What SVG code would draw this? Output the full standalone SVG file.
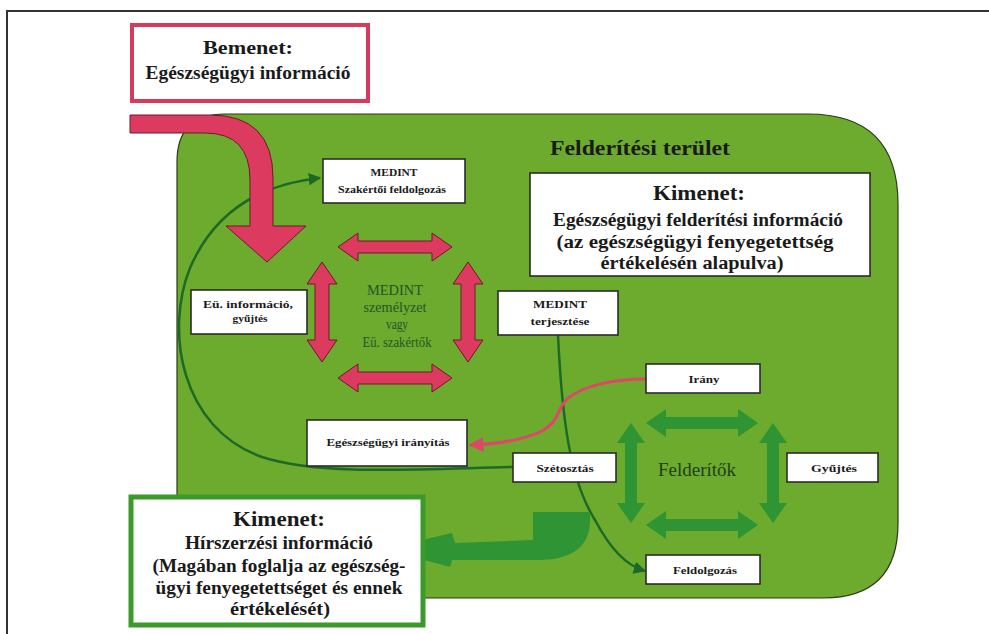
<svg xmlns="http://www.w3.org/2000/svg" width="989" height="634" viewBox="0 0 989 634">
<style>
.box{fill:#fff;stroke:#2b2b2b;stroke-width:1.6}
.t{font-family:"Liberation Serif","DejaVu Serif",serif;font-weight:bold;fill:#1a1a1a;text-anchor:middle}
.s{font-size:11px}
.r{font-family:"Liberation Serif","DejaVu Serif",serif;text-anchor:middle}
.pk{fill:#dc3a5e;stroke:#6d1a2c;stroke-width:1}
.gr{fill:#2f9433}
.ln{fill:none;stroke:#1d6a27;stroke-width:2.5}
</style>
<defs>
<marker id="ag" viewBox="0 0 10 10" refX="9" refY="5" markerWidth="5" markerHeight="5" orient="auto" markerUnits="strokeWidth"><path d="M0,0 L10,5 L0,10 Z" fill="#1d6a27"/></marker>
<marker id="ar" viewBox="0 0 10 10" refX="9" refY="5" markerWidth="5" markerHeight="5" orient="auto" markerUnits="strokeWidth"><path d="M0,0 L10,5 L0,10 Z" fill="#e0456a"/></marker>
<path id="ph" d="M-57,0 L-37,-14 L-37,-6 L37,-6 L37,-14 L57,0 L37,14 L37,6 L-37,6 L-37,14 Z"/>
<path id="pv" d="M0,-50 L15,-28 L7,-28 L7,28 L15,28 L0,50 L-15,28 L-7,28 L-7,-28 L-15,-28 Z"/>
<path id="gh" d="M-56,0 L-36,-14 L-36,-6 L36,-6 L36,-14 L56,0 L36,14 L36,6 L-36,6 L-36,14 Z"/>
<path id="gv" d="M0,-50 L14,-30 L6,-30 L6,30 L14,30 L0,50 L-14,30 L-6,30 L-6,-30 L-14,-30 Z"/>
</defs>
<rect x="0" y="0" width="989" height="634" fill="#fff"/>
<rect x="7" y="11" width="990" height="640" fill="none" stroke="#333" stroke-width="2"/>

<g id="area">
<path d="M177,598 L177,162 Q177,114 225,114 L808,114 Q898,114 898,204 L898,523 Q898,598 823,598 Z" fill="#6cab2d" stroke="#2a3a1a" stroke-width="1.2"/>
<text class="t" x="640" y="155" font-size="20" textLength="180" lengthAdjust="spacingAndGlyphs">Felderítési terület</text>
</g>

<g id="connectors">
<path class="ln" d="M513,467 C420,469 320,476 262,457 C180,428 165,330 190,268 C215,210 262,184 320,178" marker-end="url(#ag)"/>
<path class="ln" d="M558,335 C562,420 570,480 595,520 C610,548 625,565 645,571" marker-end="url(#ag)"/>
<path d="M646,379 C615,379 585,385 568,398 C555,410 562,420 540,432 C520,441 495,444 470,445" fill="none" stroke="#e0456a" stroke-width="3" marker-end="url(#ar)"/>
<path d="M130,115 L210,115 Q273,115 273,178 L273,226 L306,226 L267,262 L226,226 L250,226 L250,180 Q250,133 205,133 L130,133 Z" class="pk"/>
<path d="M590,512 L533,512 L533,540 L455,543 L452,533 L384,549 L450,567 L452,560 L542,560 Q590,558 590,520 Z" class="gr"/>
</g>

<g id="pink-cycle">
<use href="#ph" x="395" y="247" class="pk"/>
<use href="#ph" x="395" y="378" class="pk"/>
<use href="#pv" x="322" y="312" class="pk"/>
<use href="#pv" x="468" y="312" class="pk"/>
<g class="r" font-size="14" fill="#24552a">
<text x="395" y="295" textLength="56" lengthAdjust="spacingAndGlyphs">MEDINT</text>
<text x="395" y="312" textLength="63" lengthAdjust="spacingAndGlyphs">személyzet</text>
<text x="397" y="329" textLength="22" lengthAdjust="spacingAndGlyphs">vagy</text>
<text x="397" y="347" textLength="69" lengthAdjust="spacingAndGlyphs">Eü. szakértők</text>
</g>
</g>

<g id="green-cycle">
<use href="#gh" x="702" y="423" class="gr"/>
<use href="#gh" x="702" y="525" class="gr"/>
<use href="#gv" x="631" y="473" class="gr"/>
<use href="#gv" x="773" y="473" class="gr"/>
<text class="r" x="697" y="476" font-size="19" fill="#1e3f1e" textLength="78" lengthAdjust="spacingAndGlyphs">Felderítők</text>
</g>

<g id="bemenet">
<rect x="132" y="25" width="236" height="76" fill="#fff" stroke="#d63a5c" stroke-width="4"/>
<text class="t" x="248" y="54" font-size="18" textLength="90" lengthAdjust="spacingAndGlyphs">Bemenet:</text>
<text class="t" x="248" y="79" font-size="18" textLength="205" lengthAdjust="spacingAndGlyphs">Egészségügyi információ</text>
</g>

<g id="medint-szakertoi">
<rect class="box" x="323" y="159" width="142" height="44"/>
<text class="t s" x="394" y="176" textLength="47" lengthAdjust="spacingAndGlyphs">MEDINT</text>
<text class="t s" x="392" y="193" textLength="108" lengthAdjust="spacingAndGlyphs">Szakértői feldolgozás</text>
</g>

<g id="kimenet-top">
<rect class="box" x="530" y="173" width="340" height="103"/>
<text class="t" x="699" y="200" font-size="22" textLength="92" lengthAdjust="spacingAndGlyphs">Kimenet:</text>
<text class="t" x="698" y="226" font-size="18" textLength="290" lengthAdjust="spacingAndGlyphs">Egészségügyi felderítési információ</text>
<text class="t" x="695" y="248" font-size="18" textLength="277" lengthAdjust="spacingAndGlyphs">(az egészségügyi fenyegetettség</text>
<text class="t" x="692" y="269" font-size="18" textLength="183" lengthAdjust="spacingAndGlyphs">értékelésén alapulva)</text>
</g>

<g id="eu-gyujtes">
<rect class="box" x="191" y="290" width="116" height="44"/>
<text class="t s" x="248" y="308" textLength="90" lengthAdjust="spacingAndGlyphs">Eü. információ,</text>
<text class="t s" x="250" y="322" textLength="35" lengthAdjust="spacingAndGlyphs">gyűjtés</text>
</g>

<g id="medint-terjesztese">
<rect class="box" x="498" y="291" width="120" height="44"/>
<text class="t s" x="560" y="308" textLength="54" lengthAdjust="spacingAndGlyphs">MEDINT</text>
<text class="t s" x="560" y="325" textLength="59" lengthAdjust="spacingAndGlyphs">terjesztése</text>
</g>

<g id="irany">
<rect class="box" x="646" y="364" width="114" height="29"/>
<text class="t s" x="704" y="383" textLength="31" lengthAdjust="spacingAndGlyphs">Irány</text>
</g>

<g id="eu-iranyitas">
<rect class="box" x="307" y="420" width="160" height="46"/>
<text class="t s" x="388" y="446" textLength="123" lengthAdjust="spacingAndGlyphs">Egészségügyi irányítás</text>
</g>

<g id="szetosztas">
<rect class="box" x="513" y="453" width="103" height="29"/>
<text class="t s" x="565" y="472" textLength="57" lengthAdjust="spacingAndGlyphs">Szétosztás</text>
</g>

<g id="gyujtes">
<rect class="box" x="787" y="453" width="91" height="29"/>
<text class="t s" x="834" y="472" textLength="46" lengthAdjust="spacingAndGlyphs">Gyűjtés</text>
</g>

<g id="feldolgozas">
<rect class="box" x="646" y="555" width="114" height="29"/>
<text class="t s" x="705" y="574" textLength="64" lengthAdjust="spacingAndGlyphs">Feldolgozás</text>
</g>

<g id="kimenet-bottom">
<rect x="131" y="497" width="292" height="128" fill="#fff" stroke="#3c9a2c" stroke-width="5"/>
<text class="t" x="279" y="526" font-size="22" textLength="92" lengthAdjust="spacingAndGlyphs">Kimenet:</text>
<text class="t" x="279" y="549" font-size="18" textLength="188" lengthAdjust="spacingAndGlyphs">Hírszerzési információ</text>
<text class="t" x="279" y="572" font-size="18" textLength="253" lengthAdjust="spacingAndGlyphs">(Magában foglalja az egészség-</text>
<text class="t" x="279" y="594" font-size="18" textLength="247" lengthAdjust="spacingAndGlyphs">ügyi fenyegetettséget és ennek</text>
<text class="t" x="280" y="615" font-size="18" textLength="100" lengthAdjust="spacingAndGlyphs">értékelését)</text>
</g>
</svg>
